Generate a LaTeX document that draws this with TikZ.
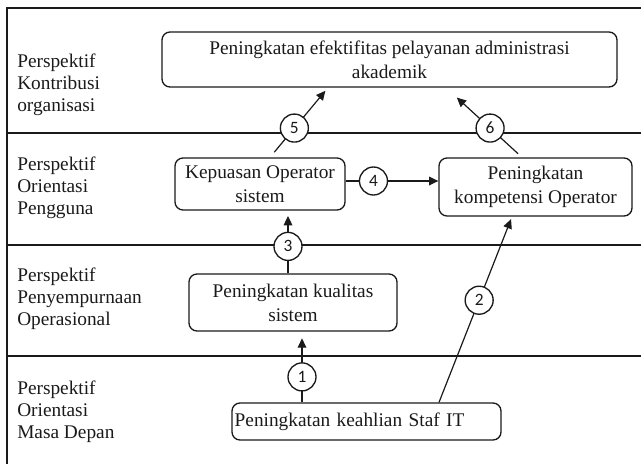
\documentclass[tikz,border=0pt]{standalone}
\usepackage{fontspec}
\setmainfont{Liberation Serif}
\newfontfamily\numfont{Carlito}
\usetikzlibrary{arrows.meta,calc}
\definecolor{diagink}{HTML}{1A1A1A}
\newcommand{\divider}[1]{%
  \draw[diagink, line width=1.1pt] (7,#1) -- (641,#1);
}
\newcommand{\rowlabel}[3]{%
  \node[lbl] (#1) at (17,#2) {#3};
}

\begin{document}
\begin{tikzpicture}[x=0.75pt, y=-0.75pt,
  every node/.style={font=\fontsize{14.5}{18}\selectfont, text=diagink},
  lbl/.style={anchor=west, align=left, inner sep=0pt, font=\fontsize{14.5}{16.5}\selectfont},
  goal/.style={draw=diagink, line width=1pt, rounded corners=6pt, align=center, inner sep=2pt},
  num/.style={circle, draw=diagink, fill=white, line width=1pt, minimum size=21pt, inner sep=0pt, font=\numfont\fontsize{13}{13}\selectfont},
  arr/.style={draw=diagink, line width=0.9pt, -{Triangle[length=7pt, width=6.5pt]}}]

  \useasboundingbox (0,0) rectangle (641,464);
  \draw[diagink, line width=1.1pt] (7,464) -- (7,8) -- (641,8);
  \divider{133}
  \divider{245}
  \divider{356}

  \rowlabel{r1}{85}{Perspektif\\Kontribusi\\organisasi}
  \rowlabel{r2}{188}{Perspektif\\Orientasi\\Pengguna}
  \rowlabel{r3}{299}{Perspektif\\Penyempurnaan\\Operasional}
  \rowlabel{r4}{412}{Perspektif\\Orientasi\\Masa Depan}

  \node[goal, minimum width=341.25pt, minimum height=41.25pt] (top) at (389.5,59.5)
    {Peningkatan efektifitas pelayanan administrasi\\akademik};
  \node[goal, minimum width=127.5pt, minimum height=39pt] (kep) at (260,184)
    {Kepuasan Operator\\sistem};
  \node[goal, minimum width=144.75pt, minimum height=43.5pt] (komp) at (535.5,187)
    {Peningkatan\\kompetensi Operator};
  \node[goal, minimum width=156pt, minimum height=42.75pt] (kual) at (293,302.5)
    {Peningkatan kualitas\\sistem};
  \node[goal, align=left, text width=197.75pt, inner xsep=2pt, minimum height=27.75pt] (staf) at (366.5,421.5)
    {Peningkatan keahlian Staf IT};

  \draw[arr, shorten >=5pt] ($(staf.north)+(-64.5,0)$) -- node[num, pos=0.36] (c1) {1} ($(kual.south)+(9,0)$);
  \draw[arr, shorten >=2pt] ($(staf.north)+(72.5,0)$) -- node[num, pos=0.55] (c2) {2} ($(komp.south)+(-23.5,0)$);
  \draw[arr, shorten >=4pt] ($(kual.north)+(-5,0)$) -- node[num, pos=0.43] (c3) {3} ($(kep.south)+(28,0)$);
  \draw[arr] ($(kep.east)+(0,-3)$) -- node[num, pos=0.3] (c4) {4} ($(komp.west)+(0,-6)$);
  \draw[arr, shorten <=5pt, shorten >=3pt] ($(kep.north)+(10,0)$) -- node[num, pos=0.42] (c5) {5} ($(top.south)+(-61.5,0)$);
  \draw[arr, shorten <=4pt, shorten >=11pt] ($(komp.north)+(-13.5,0)$) -- node[num, pos=0.42] (c6) {6} ($(top.south)+(56.5,0)$);

\end{tikzpicture}
\end{document}
